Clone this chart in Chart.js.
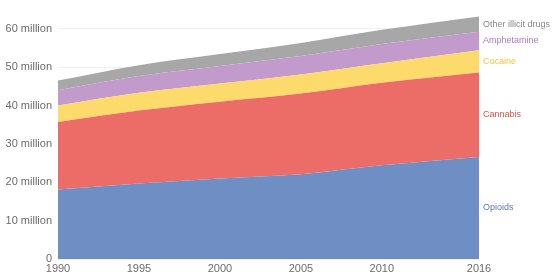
<!DOCTYPE html>
<html lang="en">
<head>
  <meta charset="UTF-8" />
  <title>Drug use disorders by type</title>
  <script src="https://cdn.jsdelivr.net/npm/chart.js"></script>
  <style>
    html, body { margin: 0; padding: 0; background: #fff; }
    #wrap { width: 552px; height: 279px; }
  </style>
</head>
<body>
  <div id="wrap"><canvas id="drugChart"></canvas></div>

  <script>
    // values in millions
    const years = [1990, 1995, 2000, 2005, 2010, 2016];
    const opioids = [18.1, 19.7, 21.0, 22.1, 24.4, 26.6];
    const cannabis = [17.6, 19.0, 20.0, 21.0, 21.5, 22.0];
    const cocaine = [4.3, 4.6, 4.7, 5.0, 5.1, 5.8];
    const amphetamine = [4.0, 4.4, 4.6, 4.8, 5.0, 4.8];
    const otherDrugs = [2.5, 2.8, 3.1, 3.4, 3.7, 4.0];
    const xTicks = [1990, 1995, 2000, 2005, 2010, 2016];
    const yTicks = [0, 10, 20, 30, 40, 50, 60];

    const series = [
      { label: "Opioids", values: opioids, fill: "#6f8ec4", text: "#5c78b6" },
      { label: "Cannabis", values: cannabis, fill: "#ec6c68", text: "#dc4f4c" },
      { label: "Cocaine", values: cocaine, fill: "#fcda6c", text: "#efc443" },
      { label: "Amphetamine", values: amphetamine, fill: "#c39acc", text: "#b07ac0" },
      { label: "Other illicit drugs", values: otherDrugs, fill: "#a7a7a7", text: "#878787" }
    ];

    Chart.defaults.font.family = "'Liberation Sans', Arial, sans-serif";
    Chart.defaults.color = "#6b6b6b";

    // names at the right end of each band
    const endLabels = {
      id: "endLabels",
      afterDatasetsDraw(chart) {
        const ctx = chart.ctx;
        const last = years.length - 1;
        let below = chart.scales.y.getPixelForValue(0);
        ctx.save();
        ctx.font = "9px 'Liberation Sans', Arial, sans-serif";
        ctx.textBaseline = "middle";
        ctx.textAlign = "left";
        series.forEach((s, i) => {
          const top = chart.getDatasetMeta(i).data[last].y;
          ctx.fillStyle = s.text;
          ctx.fillText(s.label, chart.chartArea.right + 4, (top + below) / 2);
          below = top;
        });
        ctx.restore();
      }
    };

    new Chart(document.getElementById("drugChart"), {
      type: "line",
      data: {
        datasets: series.map((s, i) => ({
          label: s.label,
          data: years.map((yr, j) => ({ x: yr, y: s.values[j] })),
          backgroundColor: s.fill,
          borderColor: s.fill,
          borderWidth: 0,
          pointRadius: 0,
          fill: i === 0 ? "origin" : "-1",
          cubicInterpolationMode: "monotone"
        }))
      },
      options: {
        responsive: true,
        maintainAspectRatio: false,
        animation: false,
        layout: { padding: { top: 0, right: 73, bottom: 0, left: 0 } },
        plugins: { legend: { display: false }, tooltip: { enabled: false } },
        scales: {
          x: {
            type: "linear",
            min: 1990,
            max: 2016,
            afterBuildTicks: axis => { axis.ticks = xTicks.map(v => ({ value: v })); },
            afterFit: axis => { axis.height = 20; },
            grid: { display: false, drawTicks: false },
            border: { display: false },
            ticks: {
              padding: 3,
              maxRotation: 0,
              font: { size: 11 },
              color: "#6b6b6b",
              callback: v => String(v)
            }
          },
          y: {
            stacked: true,
            min: 0,
            max: 64.2,
            afterBuildTicks: axis => { axis.ticks = yTicks.map(v => ({ value: v })); },
            afterFit: axis => { axis.width = 58; },
            grid: { color: "#efefef", drawTicks: false },
            border: { display: false },
            ticks: {
              padding: 6,
              font: { size: 11 },
              color: "#6b6b6b",
              callback: v => v === 0 ? "0" : v + " million"
            }
          }
        }
      },
      plugins: [endLabels]
    });
  </script>
</body>
</html>
